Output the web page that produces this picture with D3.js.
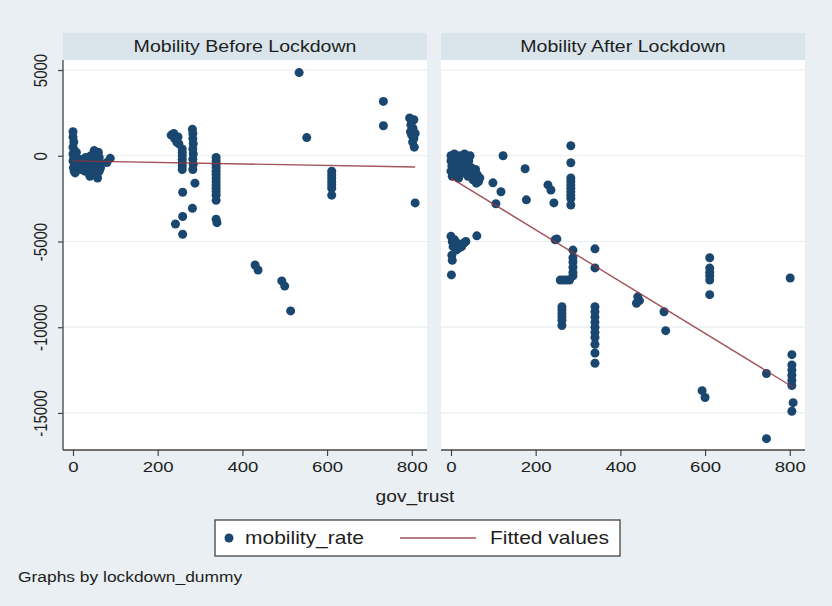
<!DOCTYPE html>
<html><head><meta charset="utf-8">
<script src="https://cdn.jsdelivr.net/npm/d3@7"></script>
<style>
html,body{margin:0;padding:0;background:#e9eff2;}
svg{display:block;font-family:"Liberation Sans",Arial,sans-serif;}
</style></head>
<body>
<svg id="chart" width="832" height="606"></svg>
<script>
// ---------- DATA ----------
const panelTitles = ["Mobility Before Lockdown", "Mobility After Lockdown"];
const xTicks = [0, 200, 400, 600, 800];
const yTicks = [5000, 0, -5000, -10000, -15000];
const xLabel = "gov_trust";
const legendLabels = ["mobility_rate", "Fitted values"];
const noteText = "Graphs by lockdown_dummy";

// Before lockdown (gov_trust, mobility_rate)
const beforeX = [0,0,2,0,3,0,2,0,4,1,3,5,8,8,10,6,
  15,18,20,22,25,28,30,33,35,38,40,42,45,48,50,52,54,55,56,57,58,60,62,64,65,62,80,88,
  232,238,240,245,248,250,
  258,258,258,258,258,258,258,
  282,283,283,284,283,284,283,284,283,
  259,242,259,259,282,288,
  338,338,338,338,338,338,338,338,338,338,338,338,338,338,340,
  534,552,
  611,611,611,611,611,611,611,
  733,733,
  795,800,805,798,803,797,808,800,805,802,806,808,
  430,437,493,500,514];
const beforeY = [1400,1100,800,500,300,100,-100,-300,-500,-700,-900,-1000,200,-200,-600,0,
  -200,-500,-800,-300,-600,-900,-100,-400,-700,-1000,-1200,0,-300,-600,300,100,-200,-500,-800,-1100,-1300,200,-100,-400,-700,-900,-400,-150,
  1200,1300,1000,800,1100,700,
  400,200,0,-200,-400,-600,-800,
  1550,1300,1000,700,400,100,-200,-500,-800,
  -2130,-3980,-3540,-4580,-3060,-1600,
  -100,-300,-500,-700,-900,-1100,-1300,-1500,-1700,-1900,-2100,-2300,-2600,-3700,-3900,
  4850,1060,
  -900,-1100,-1300,-1500,-1700,-1900,-2300,
  3170,1750,
  2200,2000,2100,1800,1600,1400,1300,1200,1000,800,500,-2750,
  -6370,-6660,-7300,-7600,-9050];

// After lockdown (gov_trust, mobility_rate)
const afterX = [0,0,2,0,3,5,8,10,12,15,18,20,22,25,28,30,32,35,38,40,42,45,48,50,52,55,58,60,62,65,68,
  99,118,106,123,175,178,229,236,243,
  283,283,283,283,283,283,283,283,283,283,
  0,3,5,8,10,12,15,18,22,25,30,35,61,2,3,1,
  246,250,
  288,288,288,288,288,288,
  258,265,272,280,
  262,262,262,262,262,262,
  340,340,340,340,340,340,340,340,340,340,340,340,
  441,445,438,
  503,507,
  611,611,611,611,611,611,
  593,600,
  745,745,
  801,
  805,805,805,805,805,805,808,805];
const afterY = [0,-300,-600,-900,-1200,-200,100,-500,-800,-1100,-1300,0,-400,-700,-1000,-200,100,-500,-900,-1200,-300,0,-700,-1000,-1400,-1300,-800,-1600,-1100,-1500,-1300,
  -1580,-2100,-2800,0,-760,-2570,-1700,-2000,-2750,
  580,-410,-1300,-1500,-1700,-1900,-2100,-2300,-2500,-2870,
  -4700,-5000,-5300,-4900,-5200,-5500,-5100,-5400,-5200,-5300,-5100,-5000,-4670,-5800,-6100,-6950,
  -4900,-4850,
  -5500,-5950,-6200,-6500,-6800,-7000,
  -7250,-7250,-7250,-7250,
  -8800,-9000,-9200,-9400,-9600,-9900,
  -5430,-6540,-8800,-9100,-9400,-9700,-10000,-10300,-10600,-11000,-11500,-12100,
  -8230,-8450,-8600,
  -9100,-10200,
  -5950,-6550,-6800,-7000,-7250,-8100,
  -13700,-14100,
  -12700,-16500,
  -7130,
  -11600,-12200,-12500,-12800,-13100,-13400,-14400,-14900];

// Fitted lines (endpoints)
const fitBeforeX = [0, 808];
const fitBeforeY = [-300, -660];
const fitAfterX = [0, 808];
const fitAfterY = [-1300, -13500];

// ---------- LAYOUT ----------
const svg = d3.select("#chart");
const bg = "#e9eff2", stripCol = "#d9e5eb", navy = "#1a476f", fitCol = "#90353b";
const panelW = 364, plotTop = 60, plotBottom = 450, stripTop = 33;
const panelX = [63, 441];
const SX = 1.2; // horizontal text stretch seen in the picture
const font = "'Liberation Sans', Arial, sans-serif";

svg.append("rect").attr("width", 832).attr("height", 606).attr("fill", bg);

function label(parent, x0, y0, size, txt, anchor) {
  return parent.append("text")
    .attr("transform", `translate(${x0},${y0}) scale(${SX},1)`)
    .attr("text-anchor", anchor || "start")
    .attr("font-size", size).attr("fill", "#1e1e1e").text(txt);
}

const x = d3.scaleLinear().domain([-23.6, 836]).range([0, panelW]);
const y = d3.scaleLinear().domain([-17160, 5584]).range([plotBottom - plotTop, 0]);
const fmt = d => String(d);

const panels = [
  {title: panelTitles[0], xs: beforeX, ys: beforeY, fx: fitBeforeX, fy: fitBeforeY},
  {title: panelTitles[1], xs: afterX, ys: afterY, fx: fitAfterX, fy: fitAfterY}
];

panels.forEach((p, i) => {
  const g = svg.append("g").attr("transform", `translate(${panelX[i]},0)`);
  // strip
  g.append("rect").attr("x", 0).attr("y", stripTop).attr("width", panelW).attr("height", plotTop - stripTop).attr("fill", stripCol);
  label(g, panelW / 2, stripTop + 19, 16.3, p.title, "middle");
  const pg = g.append("g").attr("transform", `translate(0,${plotTop})`);
  pg.append("rect").attr("width", panelW).attr("height", plotBottom - plotTop).attr("fill", "#fff");
  // grid
  pg.selectAll(".grid").data(yTicks).join("line")
    .attr("x1", 0).attr("x2", panelW).attr("y1", d => y(d)).attr("y2", d => y(d))
    .attr("stroke", "#e6eef1").attr("stroke-width", 1.2);
  // points
  const pts = p.xs.map((v, k) => [v, p.ys[k]]);
  pg.selectAll(".pt").data(pts).join("circle")
    .attr("cx", d => x(d[0])).attr("cy", d => y(d[1])).attr("r", 4.5)
    .attr("fill", navy);
  // fit
  const line = d3.line().x(d => x(d[0])).y(d => y(d[1]));
  pg.append("path").attr("d", line(p.fx.map((v, k) => [v, p.fy[k]])))
    .attr("stroke", fitCol).attr("stroke-width", 1.4).attr("fill", "none").attr("opacity", 0.85);
  // x axis
  const xa = pg.append("g").attr("transform", `translate(0,${plotBottom - plotTop})`)
    .call(d3.axisBottom(x).tickValues(xTicks).tickSize(6).tickFormat(fmt));
  xa.select(".domain").attr("stroke", "#444").attr("stroke-width", 1.3).attr("d", `M0,0H${panelW}`);
  xa.selectAll(".tick line").attr("stroke", "#444").attr("stroke-width", 1.2);
  xa.selectAll(".tick text").attr("font-size", 15.5).attr("fill", "#1e1e1e").attr("font-family", font)
    .attr("y", null).attr("dy", null).attr("transform", `translate(0,22) scale(${SX},1)`);
  if (i === 0) {
    const ya = pg.append("g").call(d3.axisLeft(y).tickValues(yTicks).tickSize(5).tickFormat(fmt));
    ya.select(".domain").attr("stroke", "#444").attr("stroke-width", 1.3).attr("d", `M0,0V${plotBottom - plotTop}`);
    ya.selectAll(".tick line").attr("stroke", "#444").attr("stroke-width", 1.2);
    ya.selectAll(".tick text").attr("font-size", 15).attr("fill", "#1e1e1e").attr("font-family", font)
      .attr("text-anchor", "middle").attr("dy", null).attr("x", null).attr("y", 0)
      .attr("transform", `translate(-16,0) scale(${SX},1) rotate(-90)`);
  }
});

// x label
label(svg, 415, 502, 16, xLabel, "middle");

// legend
const lg = svg.append("g");
lg.append("rect").attr("x", 215).attr("y", 520).attr("width", 405).attr("height", 36)
  .attr("fill", "#fff").attr("stroke", "#444").attr("stroke-width", 1.3);
lg.append("circle").attr("cx", 229).attr("cy", 538).attr("r", 4.5).attr("fill", navy);
label(lg, 245, 544, 17.5, legendLabels[0]);
lg.append("line").attr("x1", 400).attr("x2", 476).attr("y1", 538).attr("y2", 538)
  .attr("stroke", fitCol).attr("stroke-width", 1.4).attr("opacity", 0.85);
label(lg, 490, 544, 17.5, legendLabels[1]);

// note
label(svg, 18, 582, 14.5, noteText);
</script>
</body></html>
